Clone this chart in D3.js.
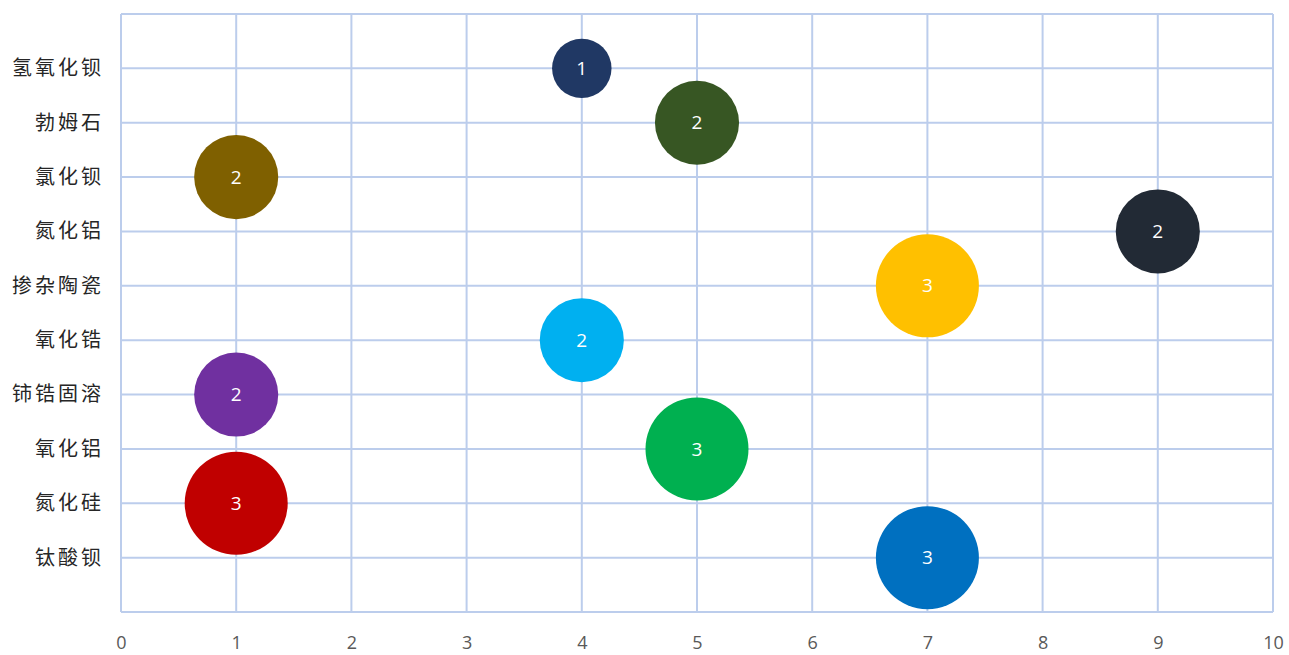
<!DOCTYPE html>
<html>
<head>
<meta charset="utf-8">
<script src="https://cdn.jsdelivr.net/npm/d3@7"></script>
<style>
  body { margin: 0; background: #fff; }
</style>
</head>
<body>
<div id="chart"></div>
<script>
"use strict"

// categories from bottom (1) to top (10)
const materials = ["钛酸钡", "氮化硅", "氧化铝", "铈锆固溶", "氧化锆", "掺杂陶瓷", "氮化铝", "氯化钡", "勃姆石", "氢氧化钡"]
const xValues   = [7, 1, 5, 1, 4, 7, 9, 1, 5, 4]
const sizes     = [3, 3, 3, 2, 2, 3, 2, 2, 2, 1]
const colors    = ["#0070c0", "#c00000", "#00b050", "#7030a0", "#00b0f0", "#ffc000", "#222a35", "#7f6000", "#375623", "#203864"]
const xTicks    = [0, 1, 2, 3, 4, 5, 6, 7, 8, 9, 10]

const width = 1289, height = 655
const margin = { left: 121, right: 16, top: 14, bottom: 43 }

const svg = d3.select("#chart").append("svg")
    .attr("width", width)
    .attr("height", height)

const x = d3.scaleLinear().domain([0, 10]).range([margin.left, width - margin.right])
const y = d3.scaleLinear().domain([0, 11]).range([height - margin.bottom, margin.top])
const r = d3.scaleSqrt().domain([0, 3]).range([0, 51.5])

const gridColor = "#bccdec"

// vertical grid
svg.append("g")
    .selectAll("line")
    .data(xTicks)
    .join("line")
    .attr("x1", d => x(d)).attr("x2", d => x(d))
    .attr("y1", y(11)).attr("y2", y(0))
    .attr("stroke", gridColor)
    .attr("stroke-width", 2)

// horizontal grid
svg.append("g")
    .selectAll("line")
    .data(d3.range(0, 12))
    .join("line")
    .attr("x1", x(0)).attr("x2", x(10))
    .attr("y1", d => y(d)).attr("y2", d => y(d))
    .attr("stroke", gridColor)
    .attr("stroke-width", 2)

// x axis labels
const xAxis = d3.axisBottom(x).tickValues(xTicks).tickSize(0).tickPadding(24).tickFormat(d3.format("d"))
svg.append("g")
    .attr("transform", `translate(0,${y(0)})`)
    .call(xAxis)
    .call(g => g.select(".domain").remove())
    .selectAll("text")
    .attr("font-family", "'Open Sans', 'Noto Sans', sans-serif")
    .attr("font-size", 18)
    .attr("fill", "#595959")

// y axis labels
const yAxis = d3.axisLeft(y)
    .tickValues(d3.range(1, 11))
    .tickSize(0).tickPadding(17)
    .tickFormat(d => materials[d - 1])
svg.append("g")
    .attr("transform", `translate(${x(0)},0)`)
    .call(yAxis)
    .call(g => g.select(".domain").remove())
    .selectAll("text")
    .attr("font-family", "'Noto Sans CJK SC', sans-serif")
    .attr("font-size", 20)
    .attr("letter-spacing", 3)
    .attr("fill", "#262626")

const data = materials.map((m, i) => ({ name: m, x: xValues[i], y: i + 1, size: sizes[i], color: colors[i] }))

const bubbles = svg.append("g")
    .selectAll("g")
    .data(data)
    .join("g")
    .attr("transform", d => `translate(${x(d.x)},${y(d.y)})`)

bubbles.append("circle")
    .attr("r", d => r(d.size))
    .attr("fill", d => d.color)

bubbles.append("text")
    .attr("text-anchor", "middle")
    .attr("dy", "0.35em")
    .attr("font-family", "'Open Sans', 'Noto Sans', sans-serif")
    .attr("font-size", 19)
    .attr("fill", "#fff")
    .text(d => d.size)
</script>
</body>
</html>
